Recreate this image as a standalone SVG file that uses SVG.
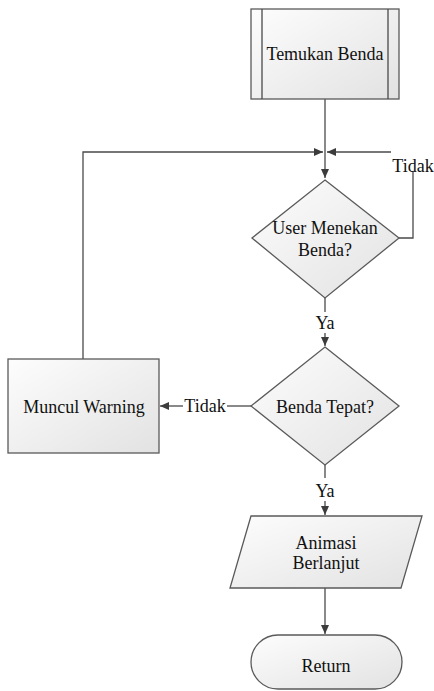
<svg xmlns="http://www.w3.org/2000/svg" width="434" height="691" viewBox="0 0 434 691">
<defs>
<linearGradient id="g" x1="0" y1="0" x2="1" y2="1">
<stop offset="0" stop-color="#fdfdfd"/>
<stop offset="1" stop-color="#e2e2e2"/>
</linearGradient>
<marker id="a" markerWidth="10" markerHeight="8" refX="9" refY="4" orient="auto" markerUnits="userSpaceOnUse">
<path d="M0,0 L9,4 L0,8 Z" fill="#3c3c3c"/>
</marker>
</defs>
<style>
.s{fill:url(#g);stroke:#5a5a5a;stroke-width:1.3}
.l{fill:none;stroke:#4a4a4a;stroke-width:1.3}
.t{font-family:'Liberation Serif','Times New Roman',serif;font-size:18px;fill:#111;text-anchor:middle}
</style>
<rect width="434" height="691" fill="#fff"/>
<g id="connectors">
<path class="l" d="M325,99 V178" marker-end="url(#a)"/>
<path class="l" d="M399,238 H413 V171"/>
<path class="l" d="M391,152 H327" marker-end="url(#a)"/>
<path class="l" d="M83,359 V152 H323" marker-end="url(#a)"/>
<path class="l" d="M325,298 V312"/>
<path class="l" d="M325,333 V346" marker-end="url(#a)"/>
<path class="l" d="M251,406 H227"/>
<path class="l" d="M183,406 H160" marker-end="url(#a)"/>
<path class="l" d="M325,465 V478"/>
<path class="l" d="M325,501 V515" marker-end="url(#a)"/>
<path class="l" d="M325,588 V634" marker-end="url(#a)"/>
<text class="t" x="413" y="172">Tidak</text>
<text class="t" x="325" y="329">Ya</text>
<text class="t" x="205" y="412">Tidak</text>
<text class="t" x="325" y="497">Ya</text>
</g>
<g id="temukan">
<rect class="s" x="251" y="9" width="148" height="90"/>
<path class="l" d="M262,9 V99 M388,9 V99"/>
<text class="t" x="325" y="60">Temukan Benda</text>
</g>
<g id="user-menekan">
<path class="s" d="M325,180 L399,238 L325,298 L252,238 Z"/>
<text class="t" x="325" y="234">User Menekan</text>
<text class="t" x="325" y="256">Benda?</text>
</g>
<g id="benda-tepat">
<path class="s" d="M325,347 L399,406 L325,465 L251,406 Z"/>
<text class="t" x="325" y="413">Benda Tepat?</text>
</g>
<g id="muncul-warning">
<rect class="s" x="8" y="359" width="151" height="94"/>
<text class="t" x="84" y="413">Muncul Warning</text>
</g>
<g id="animasi">
<path class="s" d="M251,516 H422 L401,588 H230 Z"/>
<text class="t" x="326" y="549">Animasi</text>
<text class="t" x="326" y="569">Berlanjut</text>
</g>
<g id="return">
<rect class="s" x="251" y="635" width="151" height="54" rx="27" ry="27"/>
<text class="t" x="326" y="672">Return</text>
</g>
</svg>
